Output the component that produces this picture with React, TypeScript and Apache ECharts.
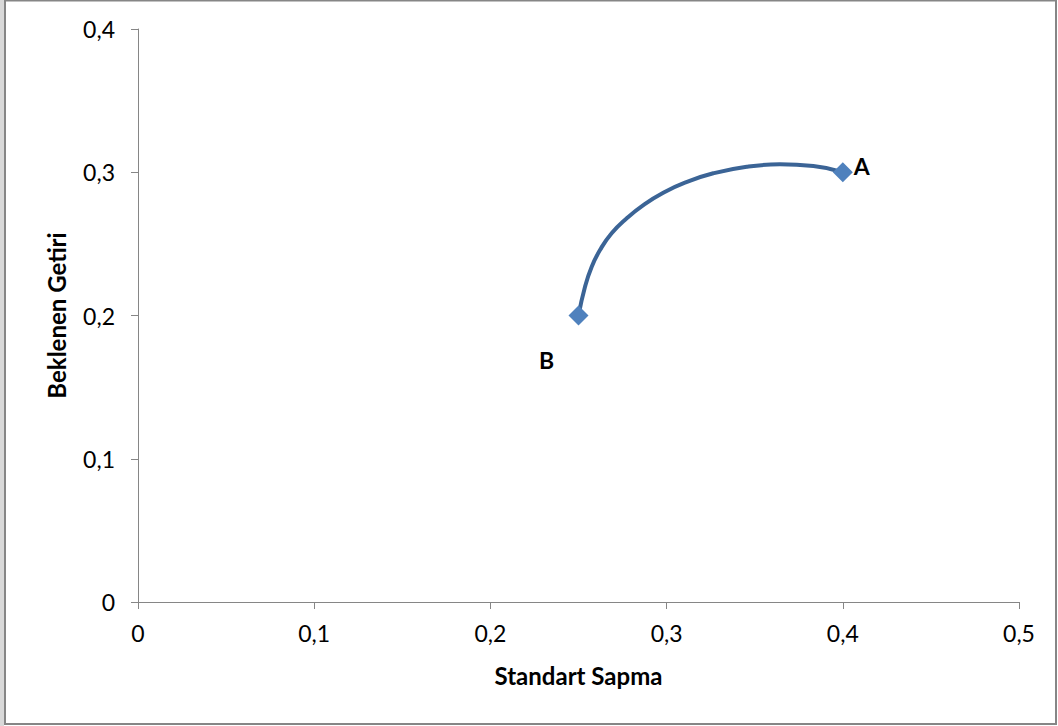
import React, { useEffect, useRef } from "react";
import * as echarts from "echarts";

const frontierX = [0.25, 0.2537, 0.2575, 0.2622, 0.2688, 0.2774, 0.2868, 0.2981, 0.3104, 0.3265, 0.3455, 0.3643, 0.3833, 0.4];
const frontierY = [0.2, 0.2201, 0.2341, 0.2457, 0.2574, 0.2679, 0.2771, 0.2857, 0.2927, 0.2993, 0.3039, 0.3055, 0.3044, 0.3];

const pointNames = ["A", "B"];
const pointX = [0.4, 0.25];
const pointY = [0.3, 0.2];

const xTitle = "Standart Sapma";
const yTitle = "Beklenen Getiri";

const FONT = "Lato, 'Open Sans', sans-serif";
const fmt = (v: number) => String(v).replace(".", ",");

export default function App() {
  const ref = useRef<HTMLDivElement>(null);
  useEffect(() => {
    document.body.style.margin = "0";
    const chart = echarts.init(ref.current!, null, { renderer: "svg" });
    const axisCommon = {
      type: "value" as const,
      interval: 0.1,
      splitLine: { show: false },
      axisLine: { show: true, onZero: false, lineStyle: { color: "#868686", width: 1 } },
      axisTick: { show: true, inside: false, length: 7, lineStyle: { color: "#868686" } },
      axisLabel: { color: "#000", fontSize: 23, fontFamily: FONT, formatter: fmt },
      nameLocation: "middle" as const,
      nameTextStyle: { color: "#000", fontSize: 24, fontWeight: "bold" as const, fontFamily: FONT },
    };
    chart.setOption({
      animation: false,
      backgroundColor: "#fff",
      grid: { left: 138, right: 39, top: 29, bottom: 124, containLabel: false },
      xAxis: { ...axisCommon, min: 0, max: 0.5, name: xTitle, nameGap: 61, axisLabel: { ...axisCommon.axisLabel, margin: 19 } },
      yAxis: { ...axisCommon, min: 0, max: 0.4, name: yTitle, nameGap: 70, axisLabel: { ...axisCommon.axisLabel, margin: 23 } },
      graphic: [
        { type: "rect", shape: { x: 0, y: 0, width: 4, height: 726 }, style: { fill: "#d9d9d9" }, silent: true },
        { type: "rect", shape: { x: 5, y: 0.5, width: 1051, height: 723.5 }, style: { fill: "none", stroke: "#868686", lineWidth: 2 }, silent: true },
      ],
      series: [
        {
          type: "line",
          data: frontierX.map((x, i) => [x, frontierY[i]]),
          smooth: 0.5,
          showSymbol: false,
          symbol: "none",
          lineStyle: { color: "#3b6496", width: 4 },
          z: 2,
        },
        {
          type: "scatter",
          symbol: "diamond",
          symbolSize: 20,
          itemStyle: { color: "#4f81bd", opacity: 1 },
          z: 3,
          data: pointNames.map((n, i) => ({
            name: n,
            value: [pointX[i], pointY[i]],
            label: {
              show: true,
              formatter: n,
              position: i === 0 ? "right" : "bottom",
              offset: i === 0 ? [-4, -6] : [-32, 18],
              color: "#000",
              fontSize: 23,
              fontWeight: "bold",
              fontFamily: FONT,
            },
          })),
        },
      ],
    });
    return () => chart.dispose();
  }, []);
  return <div ref={ref} style={{ width: 1058, height: 726 }} />;
}
